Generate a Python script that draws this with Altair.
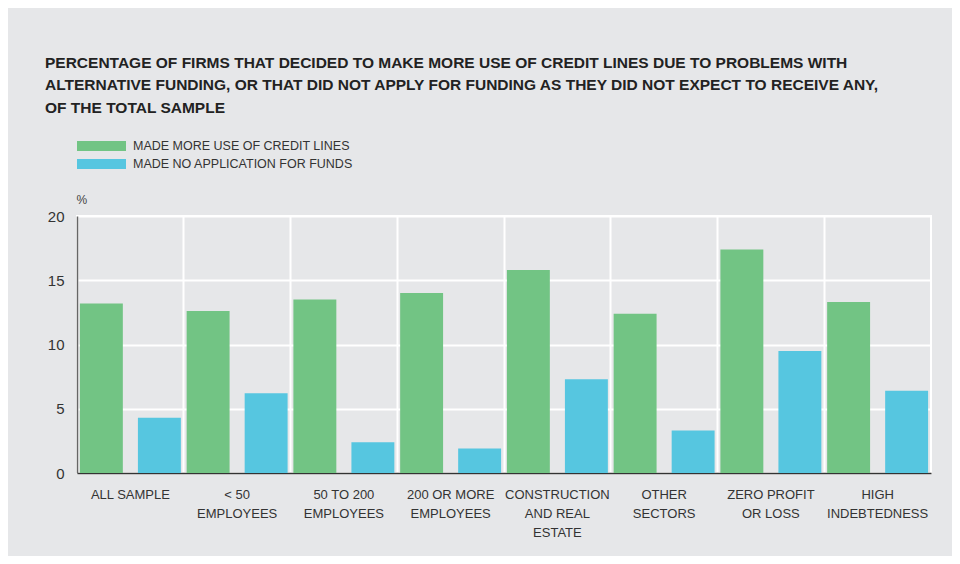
import altair as alt
import pandas as pd

categories = ["ALL SAMPLE", "< 50|EMPLOYEES", "50 TO 200|EMPLOYEES", "200 OR MORE|EMPLOYEES",
              "CONSTRUCTION|AND REAL|ESTATE", "OTHER|SECTORS", "ZERO PROFIT|OR LOSS", "HIGH|INDEBTEDNESS"]
series = ["MADE MORE USE OF CREDIT LINES", "MADE NO APPLICATION FOR FUNDS"]
credit_lines = [13.2, 12.6, 13.5, 14.0, 15.8, 12.4, 17.4, 13.3]
no_application = [4.3, 6.2, 2.4, 1.9, 7.3, 3.3, 9.5, 6.4]
colors = ["#72c484", "#56c6e0"]

rows = []
for c, a, b in zip(categories, credit_lines, no_application):
    rows.append({"cat": c, "series": series[0], "value": a})
    rows.append({"cat": c, "series": series[1], "value": b})
df = pd.DataFrame(rows)

FONT = "Liberation Sans"
W, H = 854, 257

bars = alt.Chart(df).mark_bar().encode(
    x=alt.X("cat:N", sort=categories,
            scale=alt.Scale(paddingInner=0, paddingOuter=0),
            axis=alt.Axis(title=None, labelAngle=0, labelExpr="split(datum.value, '|')",
                          labelFont=FONT, labelFontSize=13, labelColor="#333333",
                          labelLineHeight=19, labelPadding=15, ticks=False,
                          domainColor="#333333", domainWidth=1.5,
                          grid=True, gridColor="white", gridWidth=2, bandPosition=0)),
    xOffset=alt.XOffset("series:N", sort=series,
                        scale=alt.Scale(paddingInner=0.26, paddingOuter=0.05)),
    y=alt.Y("value:Q", scale=alt.Scale(domain=[0, 20], nice=False),
            axis=alt.Axis(values=[0, 5, 10, 15, 20], title="%", titleAngle=0,
                          titleX=-1, titleY=-17, titleAlign="left", titleBaseline="middle",
                          titleFont=FONT, titleFontSize=12, titleFontWeight="normal",
                          titleColor="#444444",
                          labelFont=FONT, labelFontSize=15, labelColor="#333333",
                          labelPadding=13, ticks=False,
                          domainColor="#666666", domainWidth=1.5,
                          grid=True, gridColor="white", gridWidth=2)),
    color=alt.Color("series:N", sort=series,
                    scale=alt.Scale(domain=series, range=colors),
                    legend=alt.Legend(title=None, orient="none", legendX=0, legendY=-75,
                                      symbolType="M-1,-0.2L1,-0.2L1,0.2L-1,0.2Z",
                                      symbolSize=2401, symbolStrokeWidth=0, symbolOpacity=1,
                                      clipHeight=10, rowPadding=5, padding=0,
                                      labelFont=FONT, labelFontSize=12.5, labelColor="#333333",
                                      labelOffset=7, labelLimit=0)),
)

chart = bars.properties(
    width=W, height=H,
    title=alt.TitleParams(
        text=["PERCENTAGE OF FIRMS THAT DECIDED TO MAKE MORE USE OF CREDIT LINES DUE TO PROBLEMS WITH",
              "ALTERNATIVE FUNDING, OR THAT DID NOT APPLY FOR FUNDING AS THEY DID NOT EXPECT TO RECEIVE ANY,",
              "OF THE TOTAL SAMPLE"],
        anchor="start", frame="group", dx=-32, font=FONT, fontSize=15.5, fontWeight="bold",
        color="#222222", lineHeight=22.5, offset=25),
    autosize=alt.AutoSizeParams(type="none"),
    padding={"left": 69, "top": 208, "right": 21, "bottom": 83},
    background="#e6e7e9",
).configure_view(stroke="white", strokeWidth=2)

chart.save("out.html", embed_options={"renderer": "svg", "actions": False})
